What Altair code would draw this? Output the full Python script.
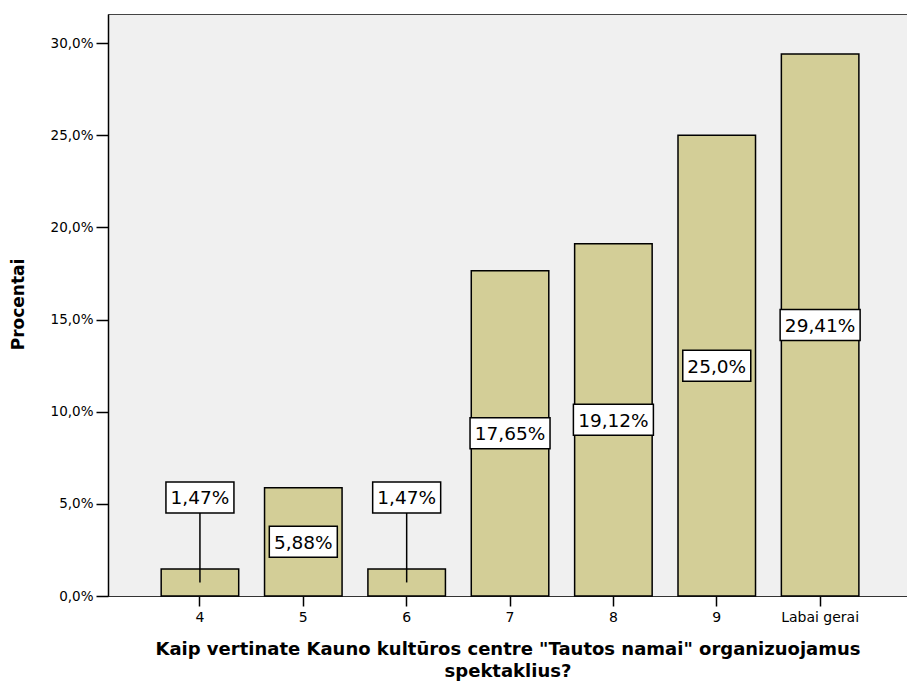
import altair as alt
import pandas as pd

categories = ["4", "5", "6", "7", "8", "9", "Labai gerai"]
values = [1.47, 5.88, 1.47, 17.65, 19.12, 25.0, 29.41]
labels = ["1,47%", "5,88%", "1,47%", "17,65%", "19,12%", "25,0%", "29,41%"]
y_ticks = [0, 5, 10, 15, 20, 25, 30]

df = pd.DataFrame({"cat": categories, "val": values, "lab": labels})
df["mid"] = df["val"] / 2
df["laby"] = [v / 2 if v >= 3 else 5.35 for v in values]
df["n"] = df["lab"].str.len()

FONT = "DejaVu Sans"

x_scale = alt.Scale(paddingInner=0.25, paddingOuter=0.49, align=0.525)

x_enc = alt.X(
    "cat:N",
    sort=categories,
    scale=x_scale,
    axis=alt.Axis(
        title=['Kaip vertinate Kauno kultūros centre "Tautos namai" organizuojamus', "spektaklius?"],
        labelAngle=0,
        labelFont=FONT,
        labelFontSize=14,
        labelColor="black",
        labelPadding=4,
        tickSize=10,
        tickWidth=1.5,
        tickColor="black",
        domainColor="#333333",
        domainWidth=1,
        titleFont=FONT,
        titleFontSize=18,
        titleFontWeight="bold",
        titleColor="black",
        titlePadding=16,
        titleLineHeight=22,
    ),
)

y_scale = alt.Scale(domain=[0, 31.58], nice=False, zero=True)

bars = alt.Chart(df).mark_bar(
    fill="#d3ce97", stroke="black", strokeWidth=1.5
).encode(
    x=x_enc,
    y=alt.Y(
        "val:Q",
        scale=y_scale,
        axis=alt.Axis(
            title="Procentai",
            values=y_ticks,
            labelExpr="replace(format(datum.value, '.1f'), '.', ',') + '%'",
            labelFont=FONT,
            labelFontSize=13.5,
            labelColor="black",
            labelPadding=3,
            tickSize=12,
            tickWidth=1.5,
            tickColor="black",
            domainColor="black",
            domainWidth=1.5,
            grid=False,
            titleFont=FONT,
            titleFontSize=17,
            titleFontWeight="bold",
            titleColor="black",
            titleX=-81,
            titleY=290,
        ),
    ),
)

leaders = alt.Chart(df).transform_filter("datum.val < 3").mark_rule(
    color="black", strokeWidth=1.5
).encode(
    x=alt.X("cat:N", sort=categories, scale=x_scale),
    y=alt.Y("mid:Q", scale=y_scale),
    y2="laby:Q",
)

box5 = alt.Chart(df).transform_filter("datum.n == 5").mark_point(
    shape="M-34,-15.5L34,-15.5L34,15.5L-34,15.5Z",
    size=4, filled=True, fill="white", stroke="black", strokeWidth=1.5, opacity=1,
).encode(
    x=alt.X("cat:N", sort=categories, scale=x_scale),
    y=alt.Y("laby:Q", scale=y_scale),
)

box6 = alt.Chart(df).transform_filter("datum.n == 6").mark_point(
    shape="M-40,-15.5L40,-15.5L40,15.5L-40,15.5Z",
    size=4, filled=True, fill="white", stroke="black", strokeWidth=1.5, opacity=1,
).encode(
    x=alt.X("cat:N", sort=categories, scale=x_scale),
    y=alt.Y("laby:Q", scale=y_scale),
)

texts = alt.Chart(df).mark_text(
    font=FONT, fontSize=18.5, color="black", baseline="middle", align="center", dy=1
).encode(
    x=alt.X("cat:N", sort=categories, scale=x_scale),
    y=alt.Y("laby:Q", scale=y_scale),
    text="lab:N",
)

chart = alt.layer(bars, leaders, box5, box6, texts).properties(
    width=799,
    height=582,
    autosize="none",
    padding={"left": 100, "top": 6, "right": 0, "bottom": 85},
    background="white",
).configure_view(
    fill="#f0f0f0", stroke="#444444", strokeWidth=1
)

chart.save("out.html", embed_options={"renderer": "svg", "actions": False})
